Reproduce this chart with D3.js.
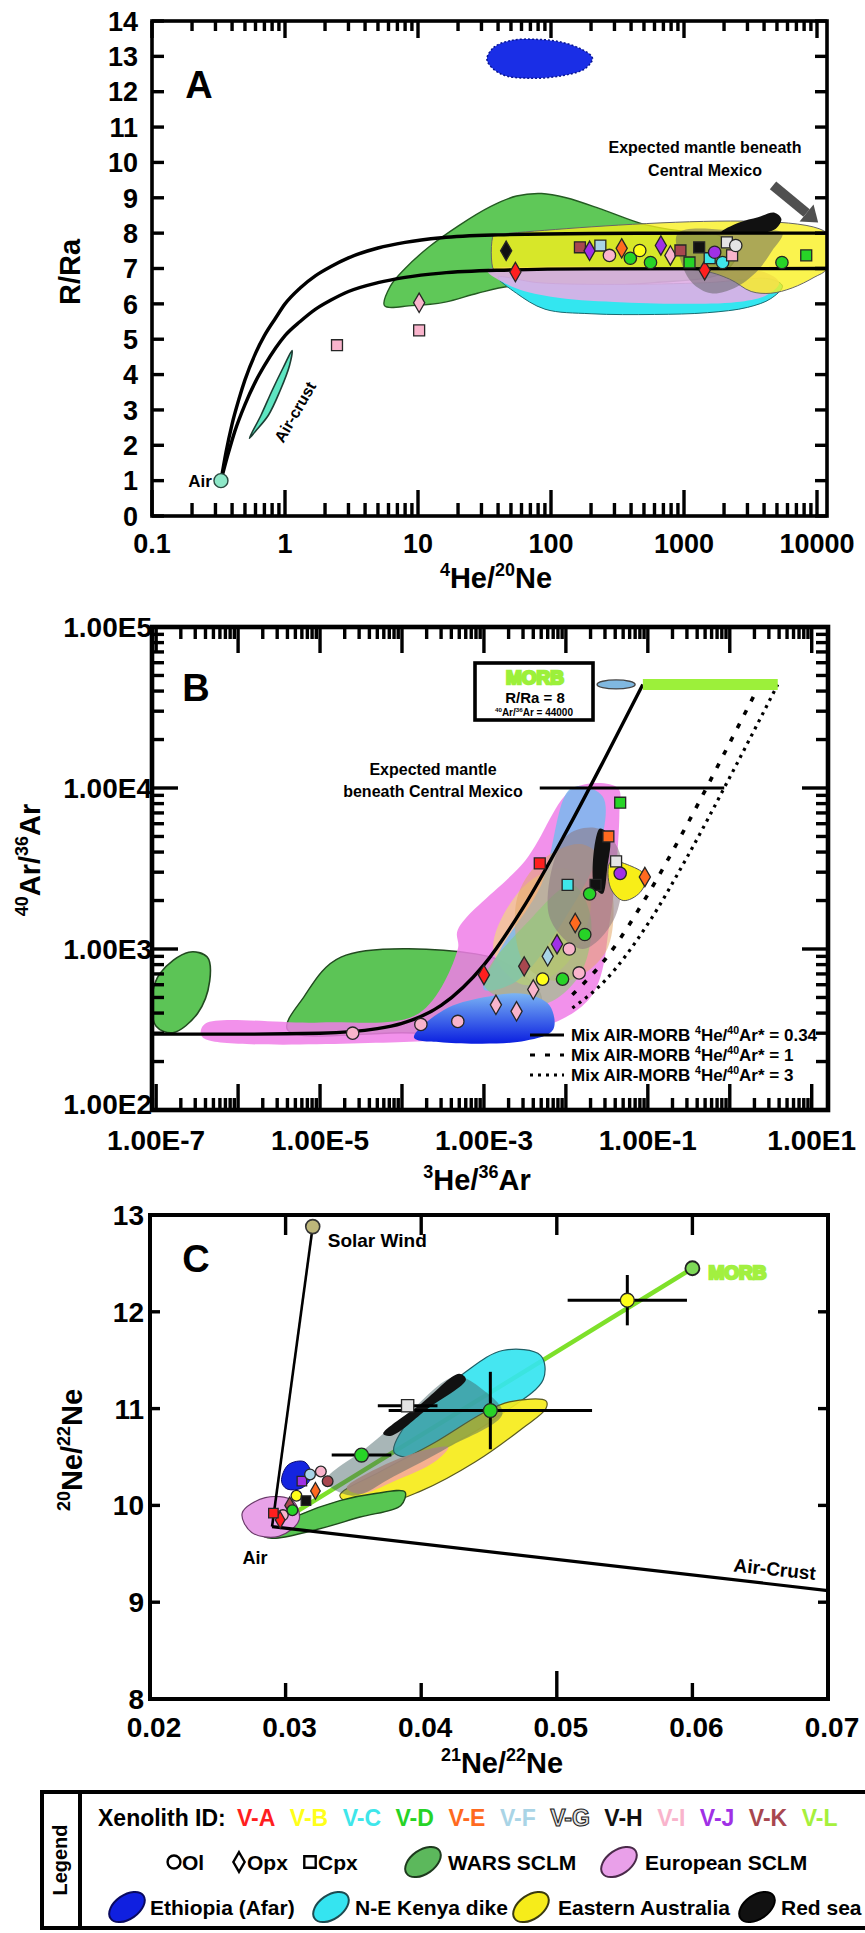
<!DOCTYPE html>
<html>
<head>
<meta charset="utf-8">
<title>Noble gas systematics of Central Mexico mantle xenoliths</title>
<script src="https://cdn.jsdelivr.net/npm/d3@7/dist/d3.min.js"></script>
<style>
  html, body { margin: 0; padding: 0; background: #fff; }
  svg text { font-family: "Liberation Sans", Arial, Helvetica, sans-serif; font-weight: bold; fill: #000; }
</style>
</head>
<body>
<svg id="fig" width="865" height="1933" viewBox="0 0 865 1933"></svg>
<script>
// ---------------- Xenolith identifiers and colours ----------------
const xenolithIds = ["V-A", "V-B", "V-C", "V-D", "V-E", "V-F", "V-G", "V-H", "V-I", "V-J", "V-K", "V-L"];
const xenolithColors = ["#ff1f1f", "#ffff1a", "#3fe6ea", "#27d327", "#ff6a1f", "#a9d4e6", "#e4e4e4", "#111111", "#f9b4cc", "#a030e6", "#a8474f", "#a6f03c"];
const mineralShapes = ["c", "d", "s"];
const mineralNames = ["Ol", "Opx", "Cpx"];
const fieldNames = ["WARS SCLM", "European SCLM", "Ethiopia (Afar)", "N-E Kenya dike", "Eastern Australia", "Red sea"];

// ---------------- Panel A: R/Ra versus 4He/20Ne ----------------
const heNeTicks = [0.1, 1, 10, 100, 1000, 10000];
const heNeLabels = ["0.1", "1", "10", "100", "1000", "10000"];
const rRaTicks = [0, 1, 2, 3, 4, 5, 6, 7, 8, 9, 10, 11, 12, 13, 14];
const airA = [0.33, 1.0];
const mixUpperA = [[0.33, 1], [0.36, 1.8], [0.4, 2.6], [0.45, 3.3], [0.5, 3.85], [0.6, 4.6], [0.7, 5.1], [0.85, 5.6], [1, 6.0], [1.3, 6.45], [1.7, 6.8], [2.2, 7.05], [3, 7.3], [5, 7.58], [8, 7.74], [15, 7.87], [40, 7.95], [200, 7.99], [2000, 8.0], [11890, 8.0]];
const mixLowerA = [[0.33, 1], [0.37, 1.7], [0.42, 2.4], [0.5, 3.15], [0.6, 3.8], [0.7, 4.25], [0.85, 4.75], [1, 5.1], [1.3, 5.5], [1.7, 5.85], [2.2, 6.1], [3, 6.35], [5, 6.6], [8, 6.75], [15, 6.87], [40, 6.95], [200, 6.99], [11890, 7.0]];
const ethiopiaA = [[33, 12.9], [37, 13.25], [50, 13.45], [80, 13.48], [120, 13.4], [170, 13.2], [205, 12.95], [180, 12.65], [120, 12.45], [70, 12.38], [42, 12.5]];
const warsA = [[5.6, 5.95], [6.2, 6.5], [8, 7.0], [12, 7.6], [20, 8.2], [35, 8.75], [55, 9.05], [85, 9.12], [130, 9.0], [250, 8.65], [500, 8.25], [1000, 8.05], [1800, 7.95], [2500, 7.5], [2000, 6.9], [600, 6.6], [150, 6.5], [50, 6.5], [28, 6.3], [16, 6.05], [9, 5.95]];
const kenyaA = [[40, 6.75], [55, 6.3], [90, 5.85], [200, 5.72], [600, 5.7], [1500, 5.75], [3000, 5.9], [4500, 6.15], [5500, 6.5], [4500, 6.7], [1500, 6.6], [300, 6.55], [80, 6.6]];
const europeA = [[33, 6.95], [50, 6.5], [100, 6.2], [300, 6.05], [1000, 6.0], [2500, 6.05], [4200, 6.25], [5200, 6.6], [4000, 6.9], [1500, 7.0], [300, 7.05], [80, 7.05]];
const australiaA = [[37, 7.95], [40, 7.97], [11890, 8.0], [11890, 7.0], [9500, 6.75], [6500, 6.45], [4500, 6.3], [3200, 6.35], [2200, 6.7], [1300, 6.95], [40, 6.95], [37, 6.97]];
const expectedA = [[900, 8.0], [950, 7.2], [1150, 6.6], [1600, 6.3], [2400, 6.45], [3500, 6.9], [4600, 7.5], [5500, 8.0], [3000, 8.05]];
const redSeaA = [[1900, 8.02], [2600, 8.3], [3600, 8.45], [4800, 8.58], [5400, 8.4], [4800, 8.1], [3500, 8.0]];
const airCrustLensA = [[0.54, 2.2], [0.66, 2.85], [0.8, 3.55], [0.97, 4.2], [1.13, 4.68], [1.08, 4.25], [0.92, 3.55], [0.75, 2.85], [0.6, 2.4]];
const samplesA = [
  [165, 7.6, "s", "V-K"], [195, 7.5, "d", "V-J"], [235, 7.65, "s", "V-F"], [275, 7.37, "c", "V-I"],
  [340, 7.57, "d", "V-E"], [395, 7.29, "c", "V-D"], [465, 7.51, "c", "V-B"], [560, 7.17, "c", "V-D"],
  [670, 7.65, "d", "V-J"], [790, 7.37, "d", "V-I"], [940, 7.51, "s", "V-K"], [1100, 7.17, "s", "V-D"],
  [1300, 7.6, "s", "V-H"], [1430, 6.95, "d", "V-A"], [1560, 7.29, "s", "V-C"], [1700, 7.46, "c", "V-J"],
  [1950, 7.17, "c", "V-C"], [2100, 7.74, "s", "V-G"], [2300, 7.37, "s", "V-I"], [2450, 7.65, "c", "V-G"],
  [5450, 7.17, "c", "V-D"], [8300, 7.37, "s", "V-D"], [46, 7.5, "d", "V-H"], [54, 6.9, "d", "V-A"],
  [10.2, 6.03, "d", "V-I"], [2.46, 4.83, "s", "V-I"], [10.2, 5.25, "s", "V-I"]
];
const arrowA = [[4670, 9.35], [10200, 8.3]];

// ---------------- Panel B: 40Ar/36Ar versus 3He/36Ar ----------------
const heArTicks = [1e-7, 1e-5, 1e-3, 1e-1, 10];
const heArLabels = ["1.00E-7", "1.00E-5", "1.00E-3", "1.00E-1", "1.00E1"];
const arTicks = [100, 1000, 10000, 100000];
const arLabels = ["1.00E2", "1.00E3", "1.00E4", "1.00E5"];
const mixSolidB = [[8.9e-8, 296], [1e-6, 296], [1e-5, 300], [5e-5, 320], [1e-4, 345], [3e-4, 446], [1e-3, 797], [3e-3, 1800], [1e-2, 5300], [3e-2, 15300], [0.087, 44000]];
const mixDashB = [[0.012, 520], [0.03, 860], [0.1, 2180], [0.3, 5900], [1, 19100], [2.32, 44000]];
const mixDotB = [[0.012, 430], [0.03, 636], [0.1, 1430], [0.3, 3700], [1, 11650], [3.85, 44000]];
const morbB = { xMin: 0.087, xMax: 3.85, ar: 44000 };
const expectedB = { xFrom: 4.8e-3, xTo: 0.855, ar: 10000 };
const warsLeftB = [[1.0e-7, 331], [8.9e-8, 501], [1.12e-7, 708], [2.5e-7, 955], [4.2e-7, 891], [4.5e-7, 631], [3.2e-7, 398], [1.6e-7, 302]];
const warsB = [[4e-6, 316], [6.3e-6, 501], [1.8e-5, 891], [7.9e-4, 933], [2e-3, 794], [5e-3, 501], [3.2e-3, 316], [1e-4, 302]];
const europeB = [[4e-7, 345], [3.5e-7, 300], [4e-7, 275], [1.26e-4, 265], [3.2e-3, 302], [0.02, 501], [0.035, 1585], [0.045, 7080], [0.043, 10000], [0.0126, 10000], [3.2e-3, 3550], [4.8e-4, 1318], [4.8e-4, 1000], [1.6e-4, 398], [1e-5, 350]];
const blueBandB = [[0.0117, 10000], [0.028, 8900], [0.025, 4000], [0.01, 1585], [2.5e-3, 631], [1e-3, 560], [1.6e-3, 1000], [5e-3, 2500]];
const tanB = [[2.5e-3, 2000], [5e-3, 3550], [0.016, 4470], [0.032, 3160], [0.032, 1000], [0.01, 631], [3.2e-3, 794]];
const paleYellowB = [[1.3e-3, 1000], [3.2e-3, 2500], [0.01, 3160], [0.02, 2000], [0.01, 800], [3e-3, 600]];
const greyB = [[0.01, 5000], [0.025, 5600], [0.045, 4000], [0.04, 1585], [0.016, 1000], [6.3e-3, 1585]];
const greenMidB = [[1e-3, 600], [4e-3, 1600], [0.012, 2500], [0.02, 1600], [0.015, 700], [5e-3, 450]];
const australiaB = [[0.035, 3470], [0.06, 3300], [0.095, 2820], [0.08, 2240], [0.05, 2000], [0.035, 2400]];
const ethiopiaB = [[1.4e-4, 282], [3.2e-4, 417], [1e-3, 501], [3.2e-3, 525], [6.3e-3, 447], [7e-3, 316], [3.2e-3, 269], [3.2e-4, 263]];
const redSeaB = [[0.026, 5600], [0.034, 5000], [0.032, 3200], [0.028, 2200], [0.022, 2500]];
const samplesB = [
  [0.046, 8100, "s", "V-D"], [0.033, 5000, "s", "V-E"], [0.0048, 3400, "s", "V-A"], [0.0105, 2500, "s", "V-C"],
  [0.023, 2500, "s", "V-H"], [0.046, 2950, "c", "V-J"], [0.092, 2800, "d", "V-E"], [0.041, 3500, "s", "V-G"],
  [0.0195, 2200, "c", "V-D"], [0.001, 690, "d", "V-A"], [0.013, 1450, "d", "V-E"], [0.017, 1230, "c", "V-D"],
  [0.0078, 1070, "d", "V-J"], [0.0031, 780, "d", "V-K"], [0.0052, 650, "c", "V-B"], [0.0091, 650, "c", "V-D"],
  [0.0145, 710, "c", "V-I"], [0.0014, 450, "d", "V-I"], [0.0025, 410, "d", "V-I"], [0.00048, 355, "c", "V-I"],
  [0.00017, 340, "c", "V-I"], [2.5e-5, 300, "c", "V-I"], [0.006, 900, "d", "V-F"], [0.011, 1000, "c", "V-I"],
  [0.004, 560, "d", "V-I"]
];
const mixLegendB = ["0.34", "1", "3"];

// ---------------- Panel C: 20Ne/22Ne versus 21Ne/22Ne ----------------
const ne21Ticks = [0.02, 0.03, 0.04, 0.05, 0.06, 0.07];
const ne21Labels = ["0.02", "0.03", "0.04", "0.05", "0.06", "0.07"];
const ne20Ticks = [8, 9, 10, 11, 12, 13];
const airC = [0.029, 9.78];
const solarWindC = [0.032, 12.88];
const morbC = [0.06, 12.45];
const airCrustC = [0.07, 9.12];
const warsC = [[0.0283, 9.7], [0.031, 9.9], [0.034, 10.05], [0.0365, 10.12], [0.0388, 10.14], [0.0385, 10.0], [0.0355, 9.88], [0.032, 9.74], [0.029, 9.66]];
const europeC = [[0.0268, 9.92], [0.0285, 10.08], [0.0305, 10.05], [0.031, 9.85], [0.0295, 9.68], [0.0275, 9.72]];
const ethiopiaC = [[0.0297, 10.25], [0.0302, 10.42], [0.0314, 10.45], [0.0319, 10.3], [0.0312, 10.18], [0.0301, 10.17]];
const kenyaC = [[0.038, 10.55], [0.0395, 10.95], [0.043, 11.35], [0.046, 11.6], [0.0488, 11.55], [0.049, 11.3], [0.046, 10.95], [0.0425, 10.65], [0.040, 10.5]];
const australiaC = [[0.034, 10.1], [0.037, 10.35], [0.041, 10.65], [0.0445, 10.95], [0.0465, 11.07], [0.0492, 11.08], [0.0492, 11.0], [0.0475, 10.8], [0.044, 10.45], [0.040, 10.15], [0.036, 9.98]];
const salmonC = [[0.0345, 10.18], [0.037, 10.4], [0.0405, 10.58], [0.042, 10.6], [0.041, 10.45], [0.038, 10.25], [0.0355, 10.12]];
const greyC = [[0.033, 10.25], [0.036, 10.6], [0.039, 10.95], [0.0425, 11.33], [0.0445, 11.2], [0.046, 10.95], [0.042, 10.6], [0.038, 10.3], [0.035, 10.1]];
const redSeaC = [[0.0372, 10.74], [0.040, 11.05], [0.0428, 11.36], [0.0433, 11.3], [0.0405, 11.0], [0.0378, 10.72]];
const samplesC = [
  [0.0298, 9.9, "c", "V-I"], [0.0303, 10.0, "d", "V-K"], [0.0308, 10.1, "c", "V-B"], [0.0312, 10.25, "s", "V-J"],
  [0.0318, 10.32, "c", "V-F"], [0.0322, 10.15, "d", "V-E"], [0.0326, 10.35, "c", "V-I"], [0.0296, 9.85, "d", "V-A"],
  [0.0315, 10.05, "s", "V-H"], [0.0331, 10.25, "c", "V-K"], [0.0305, 9.95, "c", "V-D"], [0.0291, 9.92, "s", "V-A"]
];
const errorSamplesC = [
  { id: "V-B", shape: "c", x: 0.0552, y: 12.12, dx: 0.0044, dy: 0.26 },
  { id: "V-D", shape: "c", x: 0.0451, y: 10.98, dx: 0.0075, dy: 0.40 },
  { id: "V-G", shape: "s", x: 0.0390, y: 11.03, dx: 0.0022, dy: 0.05 },
  { id: "V-D", shape: "c", x: 0.0356, y: 10.52, dx: 0.0022, dy: 0.04 }
];

// ================= drawing =================
const svg = d3.select("#fig");
svg.append("rect").attr("width", 865).attr("height", 1933).attr("fill", "#fff");
const defs = svg.append("defs");
const color = d3.scaleOrdinal(xenolithIds, xenolithColors);
const shapeOf = { c: d3.symbolCircle, d: d3.symbolDiamond, s: d3.symbolSquare };

function clipped(id, x0, y0, x1, y1) {
  defs.append("clipPath").attr("id", id).append("rect")
    .attr("x", x0).attr("y", y0).attr("width", x1 - x0).attr("height", y1 - y0);
  return svg.append("g").attr("clip-path", `url(#${id})`);
}

function region(g, pts, x, y, fill, o = {}) {
  const gen = d3.line().x(d => x(d[0])).y(d => y(d[1])).curve(d3.curveCatmullRomClosed.alpha(0.5));
  return g.append("path").attr("d", gen(pts)).attr("fill", fill)
    .attr("fill-opacity", o.opacity ?? 1)
    .attr("stroke", o.stroke ?? "none").attr("stroke-width", o.sw ?? 1.2)
    .attr("stroke-dasharray", o.dash ?? null);
}

function curve(g, pts, x, y, o = {}) {
  const gen = d3.line().x(d => x(d[0])).y(d => y(d[1])).curve(d3.curveMonotoneX);
  return g.append("path").attr("d", gen(pts)).attr("fill", "none")
    .attr("stroke", o.stroke ?? "#000").attr("stroke-width", o.sw ?? 3)
    .attr("stroke-dasharray", o.dash ?? null);
}

function markers(g, rows, x, y, size) {
  g.selectAll(null).data(rows).join("path")
    .attr("transform", d => `translate(${x(d[0])},${y(d[1])})`)
    .attr("d", d => d3.symbol(shapeOf[d[2]], d[2] === "d" ? size * 0.9 : size)())
    .attr("fill", d => color(d[3]))
    .attr("stroke", "#262626").attr("stroke-width", 1.3);
}

function rich(textSel, parts, fs) {
  let up = false;
  parts.forEach(([s, isSup]) => {
    const t = textSel.append("tspan").text(s);
    if (isSup) {
      t.attr("font-size", fs * 0.62);
      if (!up) { t.attr("dy", -fs * 0.42); up = true; }
    } else if (up) {
      t.attr("dy", fs * 0.42); up = false;
    }
  });
  return textSel;
}

function tick(g, x1, y1, x2, y2, w = 3.4) {
  g.append("line").attr("x1", x1).attr("y1", y1).attr("x2", x2).attr("y2", y2)
    .attr("stroke", "#000").attr("stroke-width", w);
}

const isDecade = v => Math.abs(Math.log10(v) - Math.round(Math.log10(v))) < 1e-9;

// ================= Panel A =================
const A = { l: 152, r: 827, t: 21, b: 516 };
const xA = d3.scaleLog().domain([0.1, 11890]).range([A.l, A.r]);
const yA = d3.scaleLinear().domain([0, 14]).range([A.b, A.t]);
const gA = clipped("clipA", A.l, A.t, A.r, A.b);

region(gA, ethiopiaA, xA, yA, "#1a2ee6", { stroke: "#0a1690", sw: 1.5, dash: "2,2" });
region(gA, warsA, xA, yA, "#5fc858", { stroke: "#245a22", sw: 1.4 });
region(gA, kenyaA, xA, yA, "#33e6f0", { stroke: "#1a6a70", sw: 1 });
region(gA, europeA, xA, yA, "#e0aee6", { opacity: 0.9 });
region(gA, australiaA, xA, yA, "#f8ef1c", { opacity: 0.78, stroke: "#666", sw: 1 });
region(gA, expectedA, xA, yA, "#5e5e5e", { opacity: 0.5 });
region(gA, redSeaA, xA, yA, "#111");
region(gA, airCrustLensA, xA, yA, "#5ee6c2", { stroke: "#1d3d33", sw: 1.6 });
curve(gA, mixUpperA, xA, yA, { sw: 3.4 });
curve(gA, mixLowerA, xA, yA, { sw: 3.4 });
markers(gA, samplesA, xA, yA, 120);
gA.append("circle").attr("cx", xA(airA[0])).attr("cy", yA(airA[1])).attr("r", 7)
  .attr("fill", "#8ee8c8").attr("stroke", "#2a4a40").attr("stroke-width", 1.4);

// grey arrow towards the expected mantle field
{
  const [p0, p1] = arrowA.map(d => [xA(d[0]), yA(d[1])]);
  const ang = Math.atan2(p1[1] - p0[1], p1[0] - p0[0]);
  const head = 15, shaftEnd = [p1[0] - head * Math.cos(ang), p1[1] - head * Math.sin(ang)];
  svg.append("line").attr("x1", p0[0]).attr("y1", p0[1]).attr("x2", shaftEnd[0]).attr("y2", shaftEnd[1])
    .attr("stroke", "#505050").attr("stroke-width", 10);
  const n = [-Math.sin(ang), Math.cos(ang)];
  svg.append("polygon").attr("fill", "#505050").attr("points", [
    [p1[0], p1[1]],
    [shaftEnd[0] + n[0] * 11, shaftEnd[1] + n[1] * 11],
    [shaftEnd[0] - n[0] * 11, shaftEnd[1] - n[1] * 11]
  ].map(p => p.join(",")).join(" "));
}

// frame and ticks A
const tA = svg.append("g");
tA.append("rect").attr("x", A.l).attr("y", A.t).attr("width", A.r - A.l).attr("height", A.b - A.t)
  .attr("fill", "none").attr("stroke", "#000").attr("stroke-width", 3.6);
xA.ticks().forEach(v => {
  const m = isDecade(v);
  tick(tA, xA(v), A.b, xA(v), A.b - (m ? 26 : 13));
  tick(tA, xA(v), A.t, xA(v), A.t + (m ? 17 : 10));
});
rRaTicks.forEach(v => {
  tick(tA, A.l, yA(v), A.l + 12, yA(v));
  tick(tA, A.r, yA(v), A.r - 12, yA(v));
});
heNeTicks.forEach((v, i) => {
  svg.append("text").attr("x", xA(v)).attr("y", 543).attr("dy", "0.36em").attr("text-anchor", "middle")
    .attr("font-size", 27).text(heNeLabels[i]);
});
rRaTicks.forEach(v => {
  svg.append("text").attr("x", 138).attr("y", yA(v)).attr("dy", "0.36em").attr("text-anchor", "end")
    .attr("font-size", 27).text(v);
});
svg.append("text").attr("transform", "translate(80,272) rotate(-90)").attr("text-anchor", "middle")
  .attr("font-size", 29).text("R/Ra");
rich(svg.append("text").attr("x", 496).attr("y", 588).attr("text-anchor", "middle").attr("font-size", 29),
  [["4", 1], ["He/", 0], ["20", 1], ["Ne", 0]], 29);
svg.append("text").attr("x", 199).attr("y", 98).attr("text-anchor", "middle").attr("font-size", 38).text("A");
svg.append("text").attr("x", xA(airA[0]) - 9).attr("y", yA(airA[1]) + 6).attr("text-anchor", "end")
  .attr("font-size", 17).text("Air");
svg.append("text").attr("transform", `translate(${xA(1.19)},${yA(2.94)}) rotate(-60)`)
  .attr("text-anchor", "middle").attr("dy", "0.35em").attr("font-size", 16).text("Air-crust");
svg.append("text").attr("x", 705).attr("y", 153).attr("text-anchor", "middle").attr("font-size", 16)
  .text("Expected mantle beneath");
svg.append("text").attr("x", 705).attr("y", 176).attr("text-anchor", "middle").attr("font-size", 16)
  .text("Central Mexico");

// ================= Panel B =================
const B = { l: 152, r: 828, t: 627, b: 1110 };
const xB = d3.scaleLog().domain([8.9e-8, 15.8]).range([B.l, B.r]);
const yB = d3.scaleLog().domain([100, 1e5]).range([B.b, B.t]);
const gB = clipped("clipB", B.l, B.t, B.r, B.b);

const gradB = defs.append("linearGradient").attr("id", "ethGrad").attr("x1", 0).attr("y1", 1).attr("x2", 0).attr("y2", 0);
gradB.append("stop").attr("offset", "0%").attr("stop-color", "#0a1ee0");
gradB.append("stop").attr("offset", "100%").attr("stop-color", "#7ab4f4");

region(gB, warsLeftB, xB, yB, "#5cc456", { stroke: "#224a20", sw: 1.6 });
region(gB, warsB, xB, yB, "#5cc456", { stroke: "#224a20", sw: 1.4 });
region(gB, europeB, xB, yB, "#f07ee8", { opacity: 0.85 });
region(gB, paleYellowB, xB, yB, "#f4e070", { opacity: 0.6 });
region(gB, blueBandB, xB, yB, "#7ab8ee", { opacity: 0.85 });
region(gB, tanB, xB, yB, "#e4a868", { opacity: 0.55 });
region(gB, greenMidB, xB, yB, "#86d070", { opacity: 0.55 });
region(gB, greyB, xB, yB, "#8a7680", { opacity: 0.55 });
region(gB, ethiopiaB, xB, yB, "url(#ethGrad)");
region(gB, australiaB, xB, yB, "#f8ee18", { stroke: "#555", sw: 1 });
region(gB, redSeaB, xB, yB, "#111");

curve(gB, mixSolidB, xB, yB, { sw: 3.4 });
curve(gB, mixDashB, xB, yB, { sw: 3.6, dash: "5,10" });
curve(gB, mixDotB, xB, yB, { sw: 3.2, dash: "3,5" });
// MORB range and the expected-mantle level
gB.append("line").attr("x1", xB(morbB.xMin)).attr("x2", xB(morbB.xMax)).attr("y1", yB(morbB.ar)).attr("y2", yB(morbB.ar))
  .attr("stroke", "#9cf03a").attr("stroke-width", 11);
gB.append("ellipse").attr("cx", xB(0.041)).attr("cy", yB(morbB.ar)).attr("rx", 19).attr("ry", 4.5)
  .attr("fill", "#80b8e0").attr("stroke", "#444").attr("stroke-width", 1.4);
gB.append("line").attr("x1", xB(expectedB.xFrom)).attr("x2", xB(expectedB.xTo)).attr("y1", yB(expectedB.ar)).attr("y2", yB(expectedB.ar))
  .attr("stroke", "#000").attr("stroke-width", 2.8);
markers(gB, samplesB, xB, yB, 120);

const tB = svg.append("g");
tB.append("rect").attr("x", B.l).attr("y", B.t).attr("width", B.r - B.l).attr("height", B.b - B.t)
  .attr("fill", "none").attr("stroke", "#000").attr("stroke-width", 4.6);
xB.ticks().filter(v => v >= xB.domain()[0] && v <= xB.domain()[1]).forEach(v => {
  const m = isDecade(v);
  tick(tB, xB(v), B.b, xB(v), B.b - (m ? 26 : 12));
  tick(tB, xB(v), B.t, xB(v), B.t + (m ? 26 : 12));
});
yB.ticks().forEach(v => {
  const m = isDecade(v);
  tick(tB, B.l, yB(v), B.l + (m ? 26 : 12), yB(v));
  tick(tB, B.r, yB(v), B.r - (m ? 26 : 12), yB(v));
});
heArTicks.forEach((v, i) => {
  svg.append("text").attr("x", xB(v)).attr("y", 1140).attr("dy", "0.36em").attr("text-anchor", "middle")
    .attr("font-size", 28).text(heArLabels[i]);
});
arTicks.forEach((v, i) => {
  svg.append("text").attr("x", 152).attr("y", Math.min(yB(v), 1104)).attr("dy", "0.36em").attr("text-anchor", "end")
    .attr("font-size", 28).text(arLabels[i]);
});
rich(svg.append("text").attr("transform", "translate(40,860) rotate(-90)").attr("text-anchor", "middle").attr("font-size", 29),
  [["40", 1], ["Ar/", 0], ["36", 1], ["Ar", 0]], 29);
rich(svg.append("text").attr("x", 477).attr("y", 1190).attr("text-anchor", "middle").attr("font-size", 29),
  [["3", 1], ["He/", 0], ["36", 1], ["Ar", 0]], 29);
svg.append("text").attr("x", 196).attr("y", 701).attr("text-anchor", "middle").attr("font-size", 38).text("B");

// MORB box
svg.append("rect").attr("x", 475).attr("y", 663).attr("width", 118).attr("height", 57)
  .attr("fill", "#fff").attr("stroke", "#000").attr("stroke-width", 3.6);
svg.append("text").attr("x", 535).attr("y", 684).attr("text-anchor", "middle").attr("font-size", 19)
  .style("fill", "#9cf03a").attr("stroke", "#9cf03a").attr("stroke-width", 2.5).text("MORB");
svg.append("text").attr("x", 535).attr("y", 703).attr("text-anchor", "middle").attr("font-size", 15).text("R/Ra = 8");
rich(svg.append("text").attr("x", 534).attr("y", 716).attr("text-anchor", "middle").attr("font-size", 10),
  [["40", 1], ["Ar/", 0], ["36", 1], ["Ar = 44000", 0]], 10);

svg.append("text").attr("x", 433).attr("y", 775).attr("text-anchor", "middle").attr("font-size", 16).text("Expected mantle");
svg.append("text").attr("x", 433).attr("y", 797).attr("text-anchor", "middle").attr("font-size", 16).text("beneath Central Mexico");

// mixing-line legend
const legRowsY = [1035, 1055, 1075];
const legDash = [null, "5,10", "3,5"];
mixLegendB.forEach((r, i) => {
  svg.append("line").attr("x1", 530).attr("x2", 564).attr("y1", legRowsY[i]).attr("y2", legRowsY[i])
    .attr("stroke", "#000").attr("stroke-width", 3.2).attr("stroke-dasharray", legDash[i]);
  rich(svg.append("text").attr("x", 571).attr("y", legRowsY[i] + 6).attr("font-size", 17),
    [["Mix AIR-MORB ", 0], ["4", 1], ["He/", 0], ["40", 1], ["Ar* = " + r, 0]], 17);
});

// ================= Panel C =================
const C = { l: 150, r: 828, t: 1215, b: 1699 };
const xC = d3.scaleLinear().domain([0.02, 0.07]).range([C.l, C.r]);
const yC = d3.scaleLinear().domain([8, 13]).range([C.b, C.t]);
const gC = clipped("clipC", C.l, C.t, C.r, C.b);

const lineC = (a, b, stroke, w) => gC.append("line").attr("x1", xC(a[0])).attr("y1", yC(a[1]))
  .attr("x2", xC(b[0])).attr("y2", yC(b[1])).attr("stroke", stroke).attr("stroke-width", w);
lineC(airC, morbC, "#7ee02a", 4.5);
region(gC, kenyaC, xC, yC, "#35e4f0", { stroke: "#1d5e66", sw: 1.2, opacity: 0.92 });
region(gC, australiaC, xC, yC, "#f6ec1a", { stroke: "#5a5a20", sw: 1.2, opacity: 0.92 });
region(gC, warsC, xC, yC, "#58c652", { stroke: "#1f4a1c", sw: 1.4 });
region(gC, europeC, xC, yC, "#e8a2e8", { stroke: "#6a3a6a", sw: 1.2 });
region(gC, salmonC, xC, yC, "#f5aa98", { opacity: 0.92 });
region(gC, greyC, xC, yC, "#3e5e60", { opacity: 0.45 });
region(gC, redSeaC, xC, yC, "#111");
region(gC, ethiopiaC, xC, yC, "#1424e0", { stroke: "#0a0a70", sw: 1 });
lineC(airC, solarWindC, "#000", 2.6);
lineC(airC, airCrustC, "#000", 3.2);
markers(gC, samplesC, xC, yC, 90);

errorSamplesC.forEach(d => {
  gC.append("line").attr("x1", xC(d.x - d.dx)).attr("x2", xC(d.x + d.dx)).attr("y1", yC(d.y)).attr("y2", yC(d.y))
    .attr("stroke", "#000").attr("stroke-width", 3);
  gC.append("line").attr("x1", xC(d.x)).attr("x2", xC(d.x)).attr("y1", yC(d.y - d.dy)).attr("y2", yC(d.y + d.dy))
    .attr("stroke", "#000").attr("stroke-width", 3);
});
markers(gC, errorSamplesC.map(d => [d.x, d.y, d.shape, d.id]), xC, yC, 150);
gC.append("circle").attr("cx", xC(solarWindC[0])).attr("cy", yC(solarWindC[1])).attr("r", 7)
  .attr("fill", "#bdb67a").attr("stroke", "#333").attr("stroke-width", 1.6);
gC.append("circle").attr("cx", xC(morbC[0])).attr("cy", yC(morbC[1])).attr("r", 7)
  .attr("fill", "#7ed957").attr("stroke", "#222").attr("stroke-width", 1.8);

const tC = svg.append("g");
tC.append("rect").attr("x", C.l).attr("y", C.t).attr("width", C.r - C.l).attr("height", C.b - C.t)
  .attr("fill", "none").attr("stroke", "#000").attr("stroke-width", 4);
ne21Ticks.slice(1, -1).forEach(v => {
  tick(tC, xC(v), C.t, xC(v), C.t + 20);
  tick(tC, xC(v), C.b, xC(v), C.b - (v === 0.05 ? 28 : 16));
});
ne20Ticks.slice(1, -1).forEach(v => {
  tick(tC, C.l, yC(v), C.l + 10, yC(v));
  tick(tC, C.r, yC(v), C.r - 10, yC(v));
});
ne21Ticks.forEach((v, i) => {
  svg.append("text").attr("x", xC(v) + 4).attr("y", 1727).attr("dy", "0.36em").attr("text-anchor", "middle")
    .attr("font-size", 28).text(ne21Labels[i]);
});
ne20Ticks.forEach(v => {
  svg.append("text").attr("x", 144).attr("y", yC(v)).attr("dy", "0.36em").attr("text-anchor", "end")
    .attr("font-size", 28).text(v);
});
rich(svg.append("text").attr("transform", "translate(82,1450) rotate(-90)").attr("text-anchor", "middle").attr("font-size", 29),
  [["20", 1], ["Ne/", 0], ["22", 1], ["Ne", 0]], 29);
rich(svg.append("text").attr("x", 502).attr("y", 1773).attr("text-anchor", "middle").attr("font-size", 29),
  [["21", 1], ["Ne/", 0], ["22", 1], ["Ne", 0]], 29);
svg.append("text").attr("x", 196).attr("y", 1272).attr("text-anchor", "middle").attr("font-size", 38).text("C");
svg.append("text").attr("x", xC(solarWindC[0]) + 15).attr("y", 1247).attr("font-size", 19).text("Solar Wind");
svg.append("text").attr("x", xC(airC[0]) - 17).attr("y", 1564).attr("text-anchor", "middle").attr("font-size", 18).text("Air");
svg.append("text").attr("x", 815).attr("y", 1580).attr("text-anchor", "end").attr("font-size", 19)
  .attr("transform", "rotate(6,815,1580)").text("Air-Crust");
svg.append("text").attr("x", xC(morbC[0]) + 16).attr("y", 1279).attr("font-size", 19)
  .style("fill", "#a2f040").attr("stroke", "#a2f040").attr("stroke-width", 2.5).text("MORB");

// ================= Legend =================
const L = svg.append("g");
L.append("rect").attr("x", 42).attr("y", 1792).attr("width", 900).attr("height", 136)
  .attr("fill", "#fff").attr("stroke", "#000").attr("stroke-width", 4);
L.append("line").attr("x1", 80).attr("x2", 80).attr("y1", 1792).attr("y2", 1928).attr("stroke", "#000").attr("stroke-width", 4);
L.append("text").attr("transform", "translate(67,1860) rotate(-90)").attr("text-anchor", "middle")
  .attr("font-size", 20).text("Legend");

// row 1: xenolith identifiers
L.append("text").attr("x", 98).attr("y", 1826).attr("font-size", 23).text("Xenolith ID:");
let cx = 237;
xenolithIds.forEach(id => {
  const t = L.append("text").attr("x", cx).attr("y", 1826).attr("font-size", 23).text(id)
    .style("fill", color(id));
  if (id === "V-G") t.attr("stroke", "#222").attr("stroke-width", 1.1);
  cx += t.node().getComputedTextLength() + 14.5;
});

// row 2: mineral symbols and SCLM fields
const row2 = 1862;
const mineralX = [174, 239, 310];
mineralShapes.forEach((s, i) => {
  L.append("path").attr("transform", `translate(${mineralX[i]},${row2})`)
    .attr("d", d3.symbol(shapeOf[s], s === "d" ? 110 : 130)())
    .attr("fill", "#fff").attr("stroke", "#000").attr("stroke-width", 2.4);
  L.append("text").attr("x", mineralX[i] + 8).attr("y", row2 + 8).attr("font-size", 21).text(mineralNames[i]);
});
const blob = (x, y, fill, stroke) => L.append("ellipse").attr("cx", x).attr("cy", y).attr("rx", 20).attr("ry", 12)
  .attr("transform", `rotate(-35,${x},${y})`).attr("fill", fill).attr("stroke", stroke).attr("stroke-width", 2);
blob(423, row2, "#5cb85c", "#1e3a1e");
L.append("text").attr("x", 448).attr("y", row2 + 8).attr("font-size", 21).text(fieldNames[0]);
blob(619, row2, "#e9a0e9", "#4a2a4a");
L.append("text").attr("x", 645).attr("y", row2 + 8).attr("font-size", 21).text(fieldNames[1]);

// row 3: regional fields
const row3 = 1907;
const row3Blobs = [[127, "#1020e0", "#0a0a60"], [331, "#35e4f0", "#1d4a50"], [531, "#f6ec1a", "#3a3a10"], [757, "#111", "#000"]];
const row3Text = [150, 355, 558, 781];
row3Blobs.forEach(([x, f, s], i) => {
  blob(x, row3, f, s);
  L.append("text").attr("x", row3Text[i]).attr("y", row3 + 8).attr("font-size", 21).text(fieldNames[i + 2]);
});
</script>
</body>
</html>
